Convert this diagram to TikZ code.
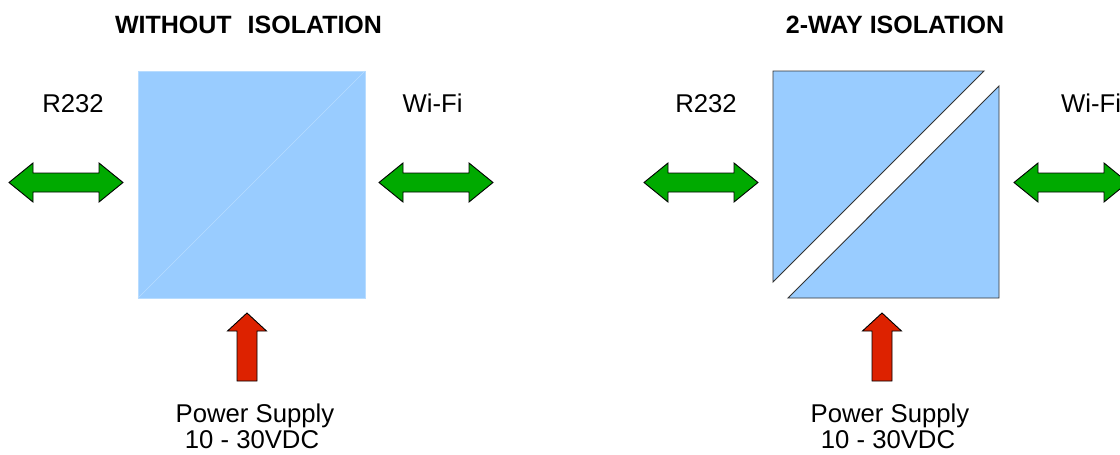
\documentclass[tikz,border=0pt]{standalone}
\usepackage{fontspec}
\setmainfont{Liberation Sans}
\definecolor{boxblue}{HTML}{99CCFF}
\definecolor{boxedge}{HTML}{B8DCFF}
\definecolor{agreen}{HTML}{00AA00}
\definecolor{ared}{HTML}{DD2200}
\tikzset{
  lbl/.style={font=\fontsize{25.7}{28}\selectfont, anchor=base, inner sep=0pt},
  ttl/.style={font=\fontsize{25}{28}\selectfont\bfseries, anchor=base, inner sep=0pt},
  garrowstyle/.style={fill=agreen, draw=black, line width=0.9pt, line join=miter},
  rarrowstyle/.style={fill=ared, draw=black, line width=0.9pt, line join=miter},
  pics/garrow/.style={code={
    \draw[garrowstyle] (0,0) -- (24,-19.5) -- (24,-9.5) -- (90,-9.5) -- (90,-19.5) -- (114,0)
      -- (90,19.5) -- (90,9.5) -- (24,9.5) -- (24,19.5) -- cycle;}},
  pics/rarrow/.style={code={
    \draw[rarrowstyle] (0,0) -- (19.5,18) -- (10,18) -- (10,68) -- (-10,68) -- (-10,18) -- (-19.5,18) -- cycle;}}
}
\begin{document}
\begin{tikzpicture}[x=1pt,y=-1pt]
\clip (0,0) rectangle (1120,455);
\useasboundingbox (0,0) rectangle (1120,455);
\fill[white] (0,0) rectangle (1120,455);

% ---- left: without isolation
\node[ttl] (t1) at (248.5,33) {WITHOUT\hspace{16pt}ISOLATION};
\fill[boxblue] (138,71) rectangle (365,298);
\draw[boxedge, line width=0.8pt] (138,71) rectangle (365,298);
\draw[boxedge, line width=0.6pt] (138,298) -- (365,71);
\node[lbl] (r1) at (73,112) {R232};
\node[lbl] (w1) at (432.5,112) {Wi-Fi};
\pic at (9,182.5) {garrow};
\pic at (379,182.5) {garrow};
\pic at (247,313) {rarrow};
\node[lbl] (p1a) at (255,422) {Power Supply};
\node[lbl] (p1b) at (252,448) {10 - 30VDC};

% ---- right: 2-way isolation
\node[ttl] (t2) at (895,33) {2-WAY ISOLATION};
\draw[fill=boxblue, draw=black!80, line width=0.9pt] (773,71) -- (984,71) -- (773,282) -- cycle;
\draw[fill=boxblue, draw=black!80, line width=0.9pt] (999,86) -- (999,298) -- (788,298) -- cycle;
\node[lbl] (r2) at (706,112) {R232};
\node[lbl] (w2) at (1091,112) {Wi-Fi};
\pic at (644,182.5) {garrow};
\pic at (1014,182.5) {garrow};
\pic at (882,313) {rarrow};
\node[lbl] (p2a) at (890,422) {Power Supply};
\node[lbl] (p2b) at (888,448) {10 - 30VDC};
\end{tikzpicture}
\end{document}
